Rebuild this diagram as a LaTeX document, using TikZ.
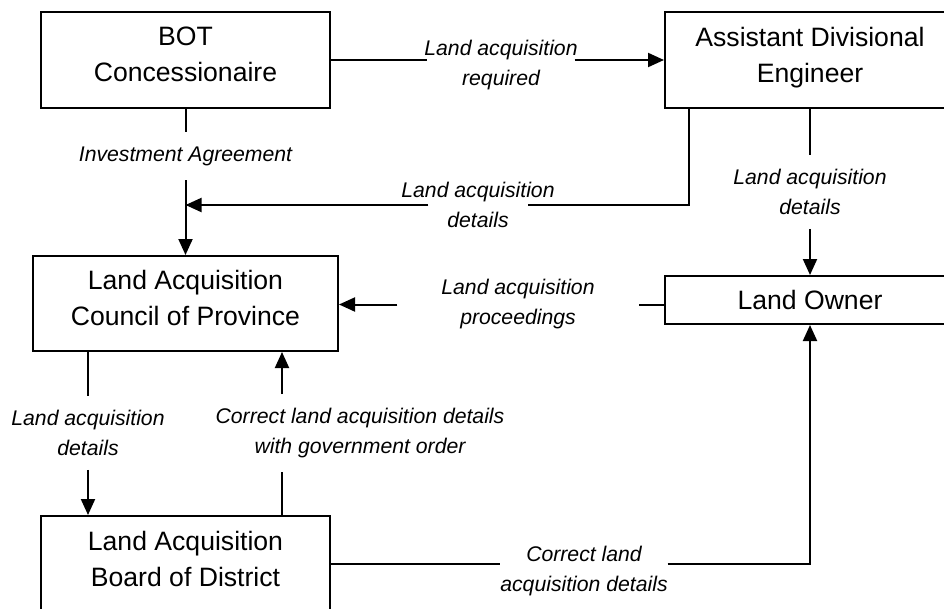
\documentclass[tikz,border=0pt]{standalone}
\usepackage{fontspec}
\setmainfont{Liberation Sans}
\usetikzlibrary{arrows.meta}

\begin{document}
\begin{tikzpicture}[x=1pt,y=-1pt,line width=2pt,
                    >={Triangle[length=16pt,width=14pt]}]
  \tikzstyle{box}=[draw,rectangle,align=center,inner sep=0pt,
                   font=\fontsize{26.6}{36}\selectfont]
  \tikzstyle{msg}=[align=center,inner xsep=0pt,inner ysep=13pt,
                   font=\fontsize{21.2}{30}\selectfont\itshape]

  \useasboundingbox (0,0) rectangle (944,608);
  \clip (0,0) rectangle (944,608);

  \node[box,minimum width=289pt,minimum height=96pt] (bot) at (185.5,60) {BOT\\Concessionaire\strut};
  \node[box,minimum width=290pt,minimum height=96pt] (ade) at (810,60) {Assistant Divisional\\Engineer\strut};
  \node[box,minimum width=305pt,minimum height=95pt] (council) at (185.5,303.5) {Land Acquisition\\Council of Province\strut};
  \node[box,minimum width=290pt,minimum height=48pt] (owner) at (810,300) {Land Owner};
  \node[box,minimum width=289pt,minimum height=96pt] (board) at (185.5,564) {Land Acquisition\\Board of District\strut};

  \node[msg,inner xsep=-4pt] (lreq) at (501,65) {Land acquisition\\required};
  \node[msg,inner ysep=14pt] (linv) at (185.5,156) {Investment Agreement};
  \node[msg,inner xsep=-28pt] (ldet1) at (478,205) {Land acquisition\\details};
  \node[msg] (ldet2) at (810,192) {Land acquisition\\details};
  \node[msg,inner xsep=43pt] (lproc) at (518,304.5) {Land acquisition\\proceedings};
  \node[msg] (ldet3) at (88,433) {Land acquisition\\details};
  \node[msg] (lcorr1) at (360,433) {Correct land acquisition details\\with government order};
  \node[msg,inner xsep=-1pt] (lcorr2) at (584,571) {Correct land\\acquisition details};
  \coordinate (corrx) at (282,433);

  \draw (bot) -- (bot -| lreq.west);
  \draw[->] (lreq.east |- ade) -- (ade);
  \draw (bot) -- (linv);
  \draw[->] (linv) -- (council);
  \draw ([xshift=25pt]ade.south west) |- (ldet1);
  \draw[->] (ldet1) -- (ldet1 -| linv);
  \draw (ade) -- (ldet2);
  \draw[->] (ldet2) -- (owner);
  \draw (owner.west |- lproc) -- (lproc);
  \draw[->] (lproc) -- (lproc -| council.east);
  \draw (council.south -| ldet3) -- (ldet3);
  \draw[->] (ldet3) -- (ldet3 |- board.north);
  \draw (board.north -| corrx) -- (lcorr1.south -| corrx);
  \draw[->] (lcorr1.north -| corrx) -- (council.south -| corrx);
  \draw (board) -- (board -| lcorr2.west);
  \draw[->] (lcorr2.east |- board) -| (owner);
\end{tikzpicture}
\end{document}
